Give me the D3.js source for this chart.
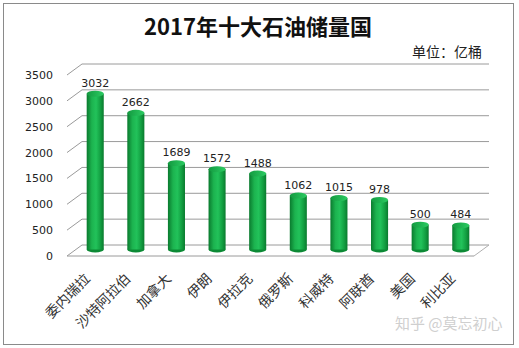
<!DOCTYPE html>
<html><head><meta charset="utf-8">
<script src="https://cdn.jsdelivr.net/npm/d3@7"></script>
<style>body{margin:0;background:#fff}svg{display:block}</style>
</head><body>
<svg id="c" width="519" height="348"></svg>
<script>
const categories = ["委内瑞拉","沙特阿拉伯","加拿大","伊朗","伊拉克","俄罗斯","科威特","阿联酋","美国","利比亚"];
const values = [3032,2662,1689,1572,1488,1062,1015,978,500,484];
const yTicks = [0,500,1000,1500,2000,2500,3000,3500];
const titleText = "2017年十大石油储量国";
const unitText = "单位：亿桶";
const watermark = "知乎 @莫忘初心";

const svg = d3.select("#c");
svg.append("rect").attr("x",3.5).attr("y",3.5).attr("width",510).attr("height",341)
  .attr("fill","#fff").attr("stroke","#8a8a8a").attr("stroke-width",1);

// 3D depth offsets
const dx = 15, dy = -11;
const x0 = 67, x1 = 474; // front floor extent
const yFront = d3.scaleLinear().domain([0,3500]).range([256,75]);
const yMid = v => yFront(v) + dy/2;
const xBand = d3.scaleBand().domain(categories).range([x0+dx/2, x1+dx/2]).paddingInner(0.58).paddingOuter(0.3);

const defs = svg.append("defs");
const g1 = defs.append("linearGradient").attr("id","cyl").attr("x1","0").attr("x2","1").attr("y1","0").attr("y2","0");
[[0,"#0a7a2e"],[0.3,"#1cb34f"],[0.55,"#22c25a"],[0.8,"#13a042"],[1,"#0a7a2e"]].forEach(s=>g1.append("stop").attr("offset",s[0]).attr("stop-color",s[1]));
const g2 = defs.append("linearGradient").attr("id","cyltop").attr("x1","0").attr("x2","1");
[[0,"#139a40"],[1,"#2ccb62"]].forEach(s=>g2.append("stop").attr("offset",s[0]).attr("stop-color",s[1]));

// gridlines on back wall + side wall
const grid = svg.append("g");
yTicks.forEach(t=>{
  const yf = yFront(t), yb = yFront(t)+dy;
  grid.append("line").attr("x1",x0).attr("y1",yf).attr("x2",x0+dx).attr("y2",yb).attr("stroke","#9a9a9a");
  grid.append("line").attr("x1",x0+dx).attr("y1",yb).attr("x2",x1+dx).attr("y2",yb).attr("stroke","#9a9a9a");
});
// floor
grid.append("line").attr("x1",x0).attr("y1",yFront(0)).attr("x2",x1).attr("y2",yFront(0)).attr("stroke","#9a9a9a");
grid.append("line").attr("x1",x1).attr("y1",yFront(0)).attr("x2",x1+dx).attr("y2",yFront(0)+dy).attr("stroke","#b0b0b0");

// y tick labels
svg.append("g").selectAll("text").data(yTicks).join("text")
  .attr("x",53).attr("y",d=>yFront(d)+1).attr("text-anchor","end").attr("dominant-baseline","middle")
  .attr("font-family","DejaVu Sans").attr("font-size",11).attr("fill","#222").text(d=>d);

// bars (cylinders)
const bw = xBand.bandwidth(), ry = 3;
const bars = svg.append("g").selectAll("g").data(values).join("g");
bars.append("ellipse").attr("cx",(d,i)=>xBand(categories[i])+bw/2).attr("cy",yMid(0)-1).attr("rx",bw/2).attr("ry",ry).attr("fill","#0c8a35");
bars.append("rect").attr("x",(d,i)=>xBand(categories[i])).attr("y",d=>yMid(d)).attr("width",bw)
  .attr("height",d=>yMid(0)-1-yMid(d)).attr("fill","url(#cyl)");
bars.append("ellipse").attr("cx",(d,i)=>xBand(categories[i])+bw/2).attr("cy",d=>yMid(d)).attr("rx",bw/2).attr("ry",ry).attr("fill","url(#cyltop)");

// value labels
svg.append("g").selectAll("text").data(values).join("text")
  .attr("x",(d,i)=>xBand(categories[i])+bw/2).attr("y",d=>yMid(d)-10).attr("text-anchor","middle")
  .attr("dominant-baseline","middle").attr("font-family","DejaVu Sans").attr("font-size",11).attr("fill","#222").text(d=>d);

// category labels
svg.append("g").selectAll("text").data(categories).join("text")
  .attr("transform",d=>`translate(${xBand(d)+bw/2-7},${277}) rotate(-45)`)
  .attr("text-anchor","end").attr("dominant-baseline","middle")
  .attr("font-family","Noto Sans CJK SC").attr("font-size",14).attr("fill","#333").text(d=>d);

// title
svg.append("text").attr("x",258).attr("y",29).attr("text-anchor","middle").attr("dominant-baseline","middle")
  .attr("font-family","Noto Sans CJK SC").attr("font-weight","bold").attr("font-size",22).attr("fill","#111").text(titleText);
svg.append("text").attr("x",482).attr("y",53).attr("text-anchor","end").attr("dominant-baseline","middle")
  .attr("font-family","Noto Sans CJK SC").attr("font-size",14).attr("fill","#222").text(unitText);
svg.append("text").attr("x",395).attr("y",325).attr("dominant-baseline","middle")
  .attr("font-family","Noto Sans CJK SC").attr("font-size",15).attr("fill","#cfcfcf").text(watermark);
</script>
</body></html>
